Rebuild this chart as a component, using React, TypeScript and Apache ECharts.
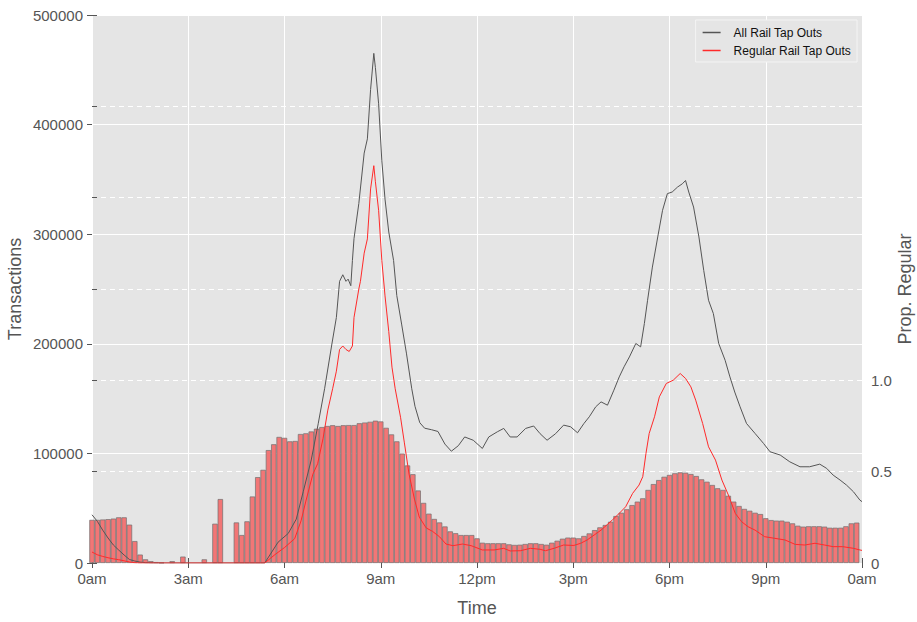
import React, { useEffect, useRef } from 'react';
import * as echarts from 'echarts';

const X_TICK_LABELS = ['0am', '3am', '6am', '9am', '12pm', '3pm', '6pm', '9pm', '0am'];

// Proportion of regular tap outs, one bar per 10-minute bin (0:00 .. 23:50)
const BAR_PROP = [
  0.236, 0.236, 0.238, 0.24, 0.243, 0.25, 0.25, 0.21, 0.12, 0.046, 0.02, 0.01,
  0.005, 0.002, 0, 0.01, 0, 0.035, 0, 0, 0, 0.02, 0, 0.215,
  0.35, 0, 0, 0.222, 0.153, 0.228, 0.364, 0.47, 0.51, 0.618, 0.65, 0.69,
  0.685, 0.666, 0.668, 0.706, 0.71, 0.72, 0.735, 0.744, 0.75, 0.754, 0.75, 0.754,
  0.755, 0.755, 0.765, 0.769, 0.773, 0.779, 0.775, 0.74, 0.704, 0.666, 0.599, 0.534,
  0.486, 0.397, 0.329, 0.27, 0.241, 0.222, 0.2, 0.173, 0.163, 0.153, 0.153, 0.153,
  0.135, 0.111, 0.108, 0.108, 0.108, 0.108, 0.102, 0.099, 0.1, 0.104, 0.108, 0.108,
  0.104, 0.1, 0.111, 0.122, 0.133, 0.139, 0.139, 0.135, 0.148, 0.162, 0.18, 0.195,
  0.208, 0.226, 0.257, 0.275, 0.294, 0.317, 0.336, 0.354, 0.4, 0.432, 0.454, 0.472,
  0.482, 0.491, 0.496, 0.494, 0.487, 0.476, 0.458, 0.445, 0.427, 0.409, 0.4, 0.368,
  0.336, 0.312, 0.296, 0.286, 0.275, 0.268, 0.245, 0.235, 0.232, 0.232, 0.226, 0.217,
  0.204, 0.199, 0.201, 0.201, 0.201, 0.199, 0.193, 0.193, 0.193, 0.201, 0.217, 0.221,
];

// [minute of day, transactions]
const ALL_TAPS = [
  [0, 44000], [10, 38000], [20, 30000], [30, 22800], [40, 16400], [50, 11800],
  [60, 7300], [70, 3200], [80, 1800], [90, 800], [100, 300], [110, 100], [120, 0],
  [323, 0], [348, 19000], [367, 27000], [382, 40000], [395, 65000], [410, 94000],
  [423, 127000], [435, 159000], [448, 198000], [457, 224000], [463, 257000],
  [469, 263000], [475, 257000], [479, 259000], [484, 253000], [487, 276000],
  [490, 296000], [499, 328000], [509, 374000], [515, 387000], [521, 432000],
  [527, 465000], [530, 452000], [536, 419000], [542, 367000], [548, 332000],
  [555, 302000], [564, 276000], [570, 244000], [579, 218000], [588, 191500],
  [598, 159000], [604, 143000], [613, 128000], [622, 123000], [635, 121600],
  [647, 120000], [660, 108500], [672, 102000], [685, 107000], [697, 115000],
  [713, 112000], [730, 104500], [742, 115000], [758, 119700], [770, 122800],
  [782, 115000], [795, 115000], [811, 122800], [826, 125000], [838, 118000],
  [851, 112000], [867, 118000], [882, 125800], [895, 124300], [908, 118800],
  [920, 127300], [930, 133400], [942, 142500], [952, 147000], [964, 144000],
  [976, 157700], [986, 169800], [995, 179000], [1005, 188000], [1017, 200300],
  [1026, 197200], [1033, 218500], [1039, 239700], [1048, 270000], [1058, 297500],
  [1067, 321800], [1076, 337000], [1085, 338500], [1095, 343000], [1104, 346000],
  [1110, 349000], [1116, 338500], [1125, 324800], [1135, 297500], [1144, 267000],
  [1153, 239700], [1162, 227600], [1172, 200300], [1184, 185000], [1193, 169800],
  [1202, 156000], [1212, 142500], [1224, 127300], [1240, 118200], [1256, 109000],
  [1268, 101500], [1287, 98500], [1305, 92300], [1324, 87800], [1342, 87800],
  [1361, 90200], [1374, 86300], [1386, 80200], [1399, 75700], [1411, 71100],
  [1424, 65000], [1436, 57400], [1440, 56000],
];

const REG_TAPS = [
  [0, 10000], [10, 7500], [20, 6000], [30, 4800], [40, 3800], [50, 3000],
  [60, 2000], [70, 900], [80, 300], [90, 0], [323, 0], [342, 7600], [360, 14100],
  [379, 22200], [391, 38500], [400, 56500], [413, 81000], [422, 90600],
  [432, 113400], [441, 139500], [450, 159000], [457, 175000], [463, 194800],
  [469, 198000], [475, 194800], [481, 193000], [487, 198000], [490, 224000],
  [499, 250000], [502, 257000], [509, 282700], [515, 295700], [521, 341300],
  [527, 362500], [530, 347900], [536, 321800], [542, 276000], [548, 243700],
  [555, 211100], [561, 178700], [567, 159000], [577, 133000], [584, 110300],
  [593, 80900], [603, 58300], [612, 41900], [625, 32000], [637, 28800],
  [650, 23900], [662, 17300], [675, 15800], [693, 17300], [709, 15800],
  [714, 14900], [730, 11900], [752, 11900], [770, 13400], [782, 11000],
  [801, 11200], [820, 13400], [838, 12500], [848, 11200], [864, 13400],
  [882, 16400], [901, 16000], [914, 18000], [926, 21000], [939, 25500],
  [952, 30000], [973, 39200], [986, 45300], [998, 51300], [1011, 63500],
  [1023, 71100], [1030, 78700], [1036, 100000], [1042, 118200], [1052, 133400],
  [1061, 151600], [1074, 163800], [1087, 166800], [1100, 172900], [1110, 168400],
  [1120, 160700], [1129, 148600], [1142, 127300], [1153, 106000], [1166, 93900],
  [1178, 75700], [1191, 61000], [1203, 45300], [1215, 37600], [1227, 33100],
  [1240, 30000], [1258, 24000], [1277, 22500], [1296, 21000], [1315, 17000],
  [1333, 16400], [1352, 18000], [1370, 16400], [1386, 14900], [1404, 14900],
  [1424, 13400], [1436, 11900], [1440, 11500],
];

const FONT = '"Liberation Sans", Arial, Helvetica, sans-serif';
const TICK_COLOR = '#555555';

export default function App() {
  const ref = useRef<HTMLDivElement>(null);

  useEffect(() => {
    const chart = echarts.init(ref.current as HTMLDivElement, null, { renderer: 'svg' });
    const axisTick = { show: true, inside: false, length: 5, lineStyle: { color: TICK_COLOR, width: 1 } };
    chart.setOption({
      animation: false,
      backgroundColor: '#ffffff',
      textStyle: { fontFamily: FONT },
      grid: {
        left: 92, right: 55, top: 15, bottom: 59,
        show: true, backgroundColor: '#e5e5e5', borderWidth: 0,
        outerBoundsMode: 'none',
      },
      legend: {
        data: ['All Rail Tap Outs', 'Regular Rail Tap Outs'],
        orient: 'vertical',
        right: 60,
        top: 20,
        padding: [6, 6, 5, 7],
        itemGap: 5,
        itemWidth: 18,
        itemHeight: 1.5,
        icon: 'rect',
        backgroundColor: '#e5e5e5',
        borderColor: '#f4f4f4',
        borderWidth: 1,
        borderRadius: 0,
        textStyle: { fontFamily: FONT, fontSize: 12, color: '#111', padding: [0, 0, 0, 8], lineHeight: 13 },
      },
      xAxis: [
        {
          type: 'value', position: 'bottom', min: 0, max: 1440, interval: 180,
          axisLine: { show: false },
          axisTick,
          axisLabel: {
            show: true, color: TICK_COLOR, fontSize: 15, fontFamily: FONT, margin: 8,
            showMinLabel: true, showMaxLabel: true,
            formatter: (v: number) => X_TICK_LABELS[Math.round(v / 180)] ?? '',
          },
          splitLine: { show: true, lineStyle: { color: '#ffffff', width: 1 } },
          name: 'Time', nameLocation: 'middle', nameGap: 36, nameMoveOverlap: false,
          nameTextStyle: { color: TICK_COLOR, fontSize: 18, fontFamily: FONT },
        },
        {
          type: 'value', position: 'top', min: 0, max: 1440, interval: 180,
          axisLine: { show: false },
          axisTick,
          axisLabel: { show: false },
          splitLine: { show: false },
        },
      ],
      yAxis: [
        {
          type: 'value', position: 'left', min: 0, max: 500000, interval: 100000,
          axisLine: { show: false },
          axisTick,
          axisLabel: {
            color: TICK_COLOR, fontSize: 15, fontFamily: FONT, margin: 9,
            formatter: (v: number) => String(v),
          },
          splitLine: { show: true, lineStyle: { color: '#ffffff', width: 1 } },
          name: 'Transactions', nameLocation: 'middle', nameGap: 68, nameRotate: 90,
          nameMoveOverlap: false,
          nameTextStyle: { color: TICK_COLOR, fontSize: 18, fontFamily: FONT },
        },
        {
          type: 'value', position: 'right', min: 0, max: 3, interval: 0.5,
          axisLine: { show: false },
          axisTick,
          axisLabel: {
            color: TICK_COLOR, fontSize: 15, fontFamily: FONT, margin: 9,
            formatter: (v: number) => (v === 0 ? '0' : v <= 1.0001 ? v.toFixed(1) : ''),
          },
          splitLine: { show: true, lineStyle: { color: '#ffffff', width: 1, type: [5, 4] } },
          name: 'Prop. Regular', nameLocation: 'middle', nameGap: 34, nameRotate: 90,
          nameMoveOverlap: false,
          nameTextStyle: { color: TICK_COLOR, fontSize: 18, fontFamily: FONT },
        },
      ],
      series: [
        {
          name: 'Prop. Regular',
          type: 'bar',
          xAxisIndex: 0,
          yAxisIndex: 1,
          barWidth: 5.35,
          clip: true,
          data: BAR_PROP.map((v, i) => [i * 10, v > 0 ? v : '-']),
          itemStyle: { color: '#f27676', borderColor: '#707070', borderWidth: 0.7 },
          z: 2,
        },
        {
          name: 'All Rail Tap Outs',
          type: 'line',
          xAxisIndex: 0,
          yAxisIndex: 0,
          data: ALL_TAPS,
          symbol: 'none',
          color: '#555555',
          lineStyle: { color: '#555555', width: 1 },
          z: 3,
        },
        {
          name: 'Regular Rail Tap Outs',
          type: 'line',
          xAxisIndex: 0,
          yAxisIndex: 0,
          data: REG_TAPS,
          symbol: 'none',
          color: '#ff2a2a',
          lineStyle: { color: '#ff2a2a', width: 1 },
          z: 4,
        },
      ],
    });
    return () => chart.dispose();
  }, []);

  return (
    <div
      ref={ref}
      style={{ position: 'fixed', left: 0, top: 0, width: 917, height: 622 }}
    />
  );
}
